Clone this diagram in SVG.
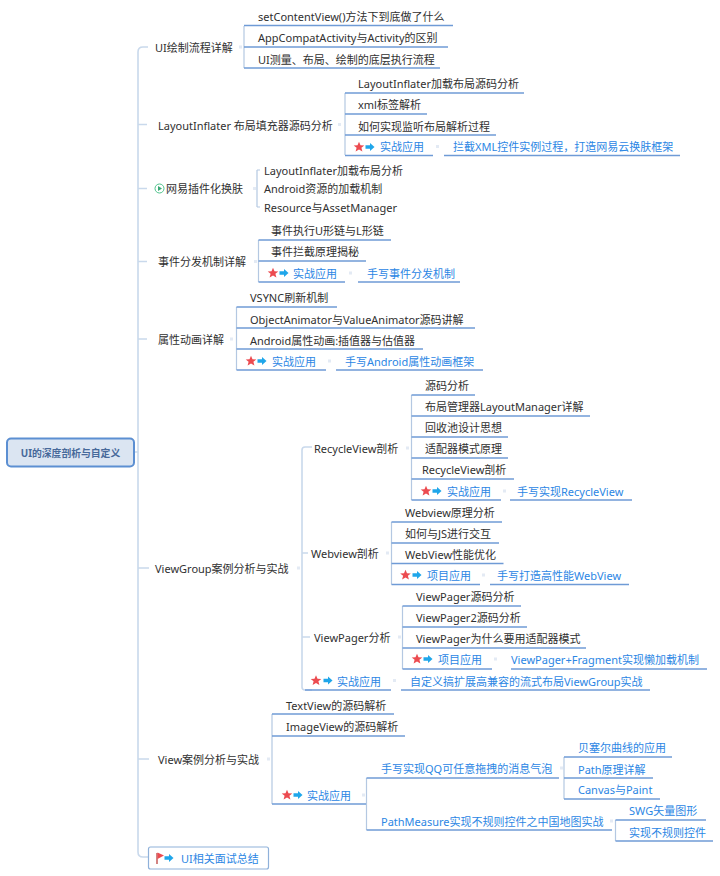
<svg xmlns="http://www.w3.org/2000/svg" width="720" height="876" viewBox="0 0 720 876">
<style>
text{font-family:"Noto Sans","Noto Sans CJK SC",sans-serif;font-size:11px;fill:#303030;transform:translateY(.7px)}
.b{fill:#2b86e4}
.u{stroke:#6f9bd6;stroke-width:1.4;fill:none}
.v{stroke:#b4c8e2;stroke-width:1.2;fill:none}
.s{stroke:#c9d9ec;stroke-width:1.6;fill:none}
.t{stroke:#e3eaf4;stroke-width:3;fill:none}
</style>
<defs>
<polygon id="star" points="0,-5.2 1.5,-1.7 5.3,-1.6 2.4,0.8 3.4,4.6 0,2.5 -3.4,4.6 -2.4,0.8 -5.3,-1.6 -1.5,-1.7" fill="#ec4b50"/>
<path id="arr" d="M-4.5,-1.700H0V-4L4.500,0L0,4V1.700H-4.500Z" fill="#1fa6ea"/>
</defs>
<rect width="720" height="876" fill="#fff"/>
<g id="connectors">
<path class="s" d="M148,47H143Q138,47 138,52V852Q138,857 143,857H148"/>
<path class="s" d="M134,452H138M138,124.500H147M138,188.500H147M138,261.500H147M138,339H147M138,568H149M138,759H149"/>
<path class="s" d="M312,447H305Q302,447 302,450V687Q302,690 305,690H312M302,553H308M302,637H310"/>
<path class="t" d="M239,47H242M338,124.500H341M253,188.500H256M254,261.500H257M230,339H233M406,448H409M386,553H389M398,637H401M297,568H300M267,759H270M362,795H365M560,768H563M610,821H613M436,146.500H439M349,273H352M328,361H331M503,491H506M482,575H485M494,659H497M393,680.500H396"/>
<path class="v" d="M244,26V68M345,93V155M257,170V207M257,170H260M257,207H260M258.500,240V282M236.500,307V370M411.500,395V500M391.500,522V584.500M402.500,606V669M272,714V804M366.500,778V830M564,757V799M615.500,820V841"/>
</g>
<g id="root"><rect x="7" y="438.500" width="127" height="28" rx="4" fill="#dbe5f2" stroke="#5c8fd2" stroke-width="2"/><text x="70.500" y="456" text-anchor="middle" style="font-weight:700;font-size:9.800px;fill:#47699a">UI的深度剖析与自定义</text></g>

<g id="n-ui"><text x="155" y="51">UI绘制流程详解</text></g>
<g id="n-ui-1"><text x="258" y="20">setContentView()方法下到底做了什么</text><path class="u" d="M244,25.500H453"/></g>
<g id="n-ui-2"><text x="258" y="41">AppCompatActivity与Activity的区别</text><path class="u" d="M244,47H448"/></g>
<g id="n-ui-3"><text x="258" y="63">UI测量、布局、绘制的底层执行流程</text><path class="u" d="M244,68H440"/></g>

<g id="n-li"><text x="158" y="129">LayoutInflater 布局填充器源码分析</text></g>
<g id="n-li-1"><text x="358" y="87">LayoutInflater加载布局源码分析</text><path class="u" d="M345,93H524"/></g>
<g id="n-li-2"><text x="358" y="108">xml标签解析</text><path class="u" d="M345,114H427"/></g>
<g id="n-li-3"><text x="358" y="130">如何实现监听布局解析过程</text><path class="u" d="M345,135H496"/></g>
<g id="n-li-4"><use href="#star" x="359" y="147"/><use href="#arr" x="370" y="147"/><text class="b" x="380" y="150">实战应用</text><text class="b" x="453" y="150">拦截XML控件实例过程，打造网易云换肤框架</text><path class="u" d="M345,155.500H433M444,155.500H680"/></g>

<g id="n-skin"><circle cx="159.500" cy="188.500" r="4.500" fill="#fff" stroke="#4cc38a" stroke-width="1"/><path d="M158,186L162,188.500L158,191Z" fill="#3aa876"/><text x="166" y="192">网易插件化换肤</text></g>
<g id="n-skin-1"><text x="264" y="174">LayoutInflater加载布局分析</text></g>
<g id="n-skin-2"><text x="264" y="192">Android资源的加载机制</text></g>
<g id="n-skin-3"><text x="264" y="211">Resource与AssetManager</text></g>

<g id="n-ev"><text x="158" y="265">事件分发机制详解</text></g>
<g id="n-ev-1"><text x="271" y="234">事件执行U形链与L形链</text><path class="u" d="M258.500,240H391"/></g>
<g id="n-ev-2"><text x="271" y="255">事件拦截原理揭秘</text><path class="u" d="M258.500,261H366"/></g>
<g id="n-ev-3"><use href="#star" x="273" y="273"/><use href="#arr" x="284" y="273"/><text class="b" x="293" y="277">实战应用</text><text class="b" x="367" y="277">手写事件分发机制</text><path class="u" d="M258.500,282H345M358,282H460"/></g>

<g id="n-an"><text x="158" y="343">属性动画详解</text></g>
<g id="n-an-1"><text x="250" y="301">VSYNC刷新机制</text><path class="u" d="M236.500,307H337"/></g>
<g id="n-an-2"><text x="250" y="323">ObjectAnimator与ValueAnimator源码讲解</text><path class="u" d="M236.500,328H475"/></g>
<g id="n-an-3"><text x="250" y="344">Android属性动画:插值器与估值器</text><path class="u" d="M236.500,349H423"/></g>
<g id="n-an-4"><use href="#star" x="251" y="361"/><use href="#arr" x="262" y="361"/><text class="b" x="272" y="365">实战应用</text><text class="b" x="345" y="365">手写Android属性动画框架</text><path class="u" d="M236.500,370H326M336,370H483"/></g>

<g id="n-vg"><text x="155" y="572">ViewGroup案例分析与实战</text></g>
<g id="n-rv"><text x="314" y="452">RecycleView剖析</text></g>
<g id="n-rv-1"><text x="425" y="389">源码分析</text><path class="u" d="M411.500,395H475"/></g>
<g id="n-rv-2"><text x="425" y="410">布局管理器LayoutManager详解</text><path class="u" d="M411.500,416H590"/></g>
<g id="n-rv-3"><text x="425" y="431">回收池设计思想</text><path class="u" d="M411.500,437H508"/></g>
<g id="n-rv-4"><text x="425" y="452">适配器模式原理</text><path class="u" d="M411.500,458H508"/></g>
<g id="n-rv-5"><text x="422" y="473">RecycleView剖析</text><path class="u" d="M411.500,479H514"/></g>
<g id="n-rv-6"><use href="#star" x="426" y="491"/><use href="#arr" x="437" y="491"/><text class="b" x="447" y="495">实战应用</text><text class="b" x="517" y="495">手写实现RecycleView</text><path class="u" d="M411.500,500H501M510,500H632"/></g>

<g id="n-wv"><text x="311" y="557">Webview剖析</text></g>
<g id="n-wv-1"><text x="405" y="516">Webview原理分析</text><path class="u" d="M391.500,522H502"/></g>
<g id="n-wv-2"><text x="405" y="537">如何与JS进行交互</text><path class="u" d="M391.500,543H499"/></g>
<g id="n-wv-3"><text x="405" y="558">WebView性能优化</text><path class="u" d="M391.500,563.500H503.500"/></g>
<g id="n-wv-4"><use href="#star" x="405.500" y="575"/><use href="#arr" x="417" y="575"/><text class="b" x="427" y="579">项目应用</text><text class="b" x="497" y="579">手写打造高性能WebView</text><path class="u" d="M391.500,584.500H480M490,584.500H629"/></g>

<g id="n-vp"><text x="314" y="641">ViewPager分析</text></g>
<g id="n-vp-1"><text x="416" y="600">ViewPager源码分析</text><path class="u" d="M402.500,606H521"/></g>
<g id="n-vp-2"><text x="416" y="621">ViewPager2源码分析</text><path class="u" d="M402.500,627H527"/></g>
<g id="n-vp-3"><text x="416" y="642">ViewPager为什么要用适配器模式</text><path class="u" d="M402.500,648H586"/></g>
<g id="n-vp-4"><use href="#star" x="417" y="659"/><use href="#arr" x="428" y="659"/><text class="b" x="438" y="663">项目应用</text><text class="b" x="511" y="663">ViewPager+Fragment实现懒加载机制</text><path class="u" d="M402.500,669H492M511,669H707"/></g>

<g id="n-vg-4"><use href="#star" x="316" y="680.500"/><use href="#arr" x="328" y="680.500"/><text class="b" x="337" y="685">实战应用</text><text class="b" x="410" y="685">自定义搞扩展高兼容的流式布局ViewGroup实战</text><path class="u" d="M305,690H391M401,690H650"/></g>

<g id="n-v"><text x="158" y="763">View案例分析与实战</text></g>
<g id="n-v-1"><text x="286" y="709">TextView的源码解析</text><path class="u" d="M272,714H394"/></g>
<g id="n-v-2"><text x="286" y="730">ImageView的源码解析</text><path class="u" d="M272,736H405"/></g>
<g id="n-v-3"><use href="#star" x="287" y="795"/><use href="#arr" x="298" y="795"/><text class="b" x="307" y="799">实战应用</text><path class="u" d="M272,804H366"/></g>
<g id="n-qq"><text class="b" x="381" y="772">手写实现QQ可任意拖拽的消息气泡</text><path class="u" d="M366.500,778H559"/></g>
<g id="n-qq-1"><text class="b" x="578" y="751">贝塞尔曲线的应用</text><path class="u" d="M564,757H672"/></g>
<g id="n-qq-2"><text class="b" x="578" y="773">Path原理详解</text><path class="u" d="M564,778H653"/></g>
<g id="n-qq-3"><text class="b" x="578" y="793">Canvas与Paint</text><path class="u" d="M564,799H660"/></g>
<g id="n-pm"><text class="b" x="381" y="825">PathMeasure实现不规则控件之中国地图实战</text><path class="u" d="M366.500,830H612"/></g>
<g id="n-pm-1"><text class="b" x="629" y="814">SWG矢量图形</text><path class="u" d="M615.500,820H706"/></g>
<g id="n-pm-2"><text class="b" x="629" y="836">实现不规则控件</text><path class="u" d="M615.500,841H713"/></g>

<g id="n-sum"><rect x="148.500" y="847" width="120" height="22" rx="2" fill="#fff" stroke="#8fb1da" stroke-width="1.200"/><path d="M157,853V864" stroke="#c0504d" stroke-width="1.400"/><path d="M157.500,852.500L164,855.500L157.500,859Z" fill="#ec4b50"/><use href="#arr" x="169" y="858"/><text class="b" x="181" y="862">UI相关面试总结</text></g>
</svg>
